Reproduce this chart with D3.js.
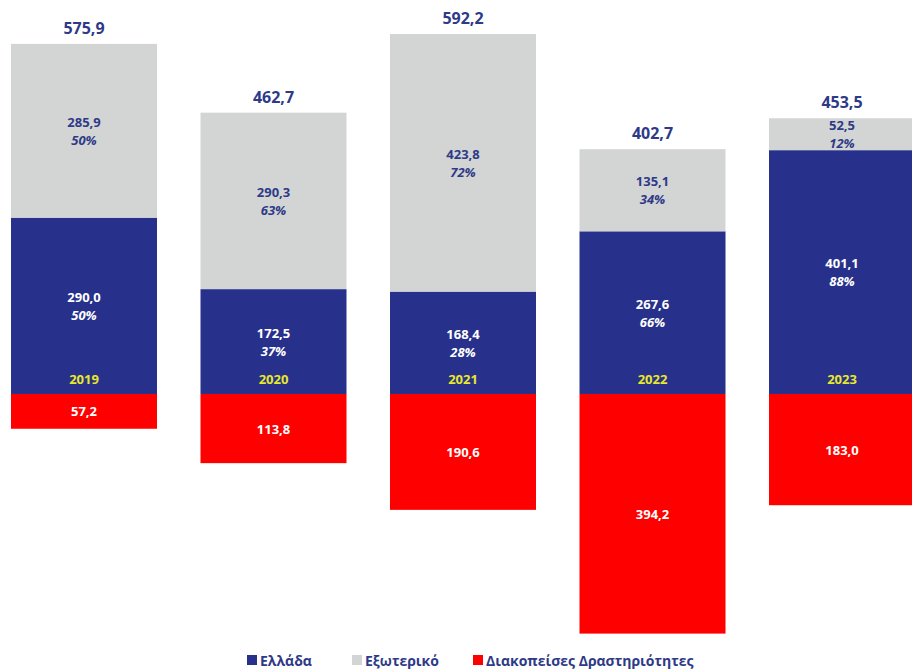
<!DOCTYPE html>
<html>
<head>
<meta charset="utf-8">
<script src="https://cdn.jsdelivr.net/npm/d3@7"></script>
<style>
  body { margin: 0; background: #fff; }
  svg { display: block; font-family: "Open Sans", "DejaVu Sans", sans-serif; }
</style>
</head>
<body>
<svg id="chart" width="912" height="670"></svg>
<script>
// data
var years = ["2019", "2020", "2021", "2022", "2023"];
var greece = [290.0, 172.5, 168.4, 267.6, 401.1];
var abroad = [285.9, 290.3, 423.8, 135.1, 52.5];
var discontinued = [57.2, 113.8, 190.6, 394.2, 183.0];
var greecePct = ["50%", "37%", "28%", "66%", "88%"];
var abroadPct = ["50%", "63%", "72%", "34%", "12%"];
var totals = [575.9, 462.7, 592.2, 402.7, 453.5];
var legendLabels = ["Ελλάδα", "Εξωτερικό", "Διακοπείσες Δραστηριότητες"];

var navy = "#27318b", grey = "#d3d5d4", red = "#ff0000", yellow = "#e8e82a";
var fmt = function(v) { return v.toFixed(1).replace(".", ","); };

var svg = d3.select("#chart");

var x = d3.scaleBand()
  .domain(years)
  .range([11, 915])
  .paddingInner(0.2296)
  .paddingOuter(0)
  .align(0);

var y = d3.scaleLinear()
  .domain([-394.2, 592.2])
  .range([633.6, 34]);

var bw = x.bandwidth();

years.forEach(function(yr, i) {
  var x0 = x(yr);
  var cx = x0 + bw / 2;
  var g0 = y(0), g1 = y(greece[i]), a1 = y(greece[i] + abroad[i]), r1 = y(-discontinued[i]);

  // bars
  svg.append("rect").attr("x", x0).attr("y", g1).attr("width", bw).attr("height", g0 - g1).attr("fill", navy);
  svg.append("rect").attr("x", x0).attr("y", a1).attr("width", bw).attr("height", g1 - a1).attr("fill", grey);
  svg.append("rect").attr("x", x0).attr("y", g0).attr("width", bw).attr("height", r1 - g0).attr("fill", red);

  // total on top
  svg.append("text").attr("x", cx).attr("y", a1 - 10)
    .attr("text-anchor", "middle").attr("font-size", 16).attr("font-weight", "bold")
    .attr("fill", "#2e3a87").text(fmt(totals[i]));

  // abroad label
  var am = (a1 + g1) / 2;
  svg.append("text").attr("x", cx).attr("y", am - 4)
    .attr("text-anchor", "middle").attr("font-size", 13).attr("font-weight", "bold")
    .attr("fill", "#2e3a87").text(fmt(abroad[i]));
  svg.append("text").attr("x", cx).attr("y", am + 14)
    .attr("text-anchor", "middle").attr("font-size", 13).attr("font-weight", "bold")
    .attr("font-style", "italic").attr("fill", "#2e3a87").text(abroadPct[i]);

  // greece label
  var gm = (g1 + g0) / 2;
  svg.append("text").attr("x", cx).attr("y", gm - 4)
    .attr("text-anchor", "middle").attr("font-size", 13).attr("font-weight", "bold")
    .attr("fill", "#fff").text(fmt(greece[i]));
  svg.append("text").attr("x", cx).attr("y", gm + 14)
    .attr("text-anchor", "middle").attr("font-size", 13).attr("font-weight", "bold")
    .attr("font-style", "italic").attr("fill", "#fff").text(greecePct[i]);

  // year
  svg.append("text").attr("x", cx).attr("y", g0 - 10)
    .attr("text-anchor", "middle").attr("font-size", 13).attr("font-weight", "bold")
    .attr("fill", yellow).text(yr);

  // discontinued label
  svg.append("text").attr("x", cx).attr("y", (g0 + r1) / 2 + 5)
    .attr("text-anchor", "middle").attr("font-size", 13).attr("font-weight", "bold")
    .attr("fill", "#fff").text(fmt(discontinued[i]));
});

// legend
var legendColors = [navy, grey, red];
var legendX = [247, 352, 473];
legendLabels.forEach(function(l, i) {
  svg.append("rect").attr("x", legendX[i]).attr("y", 655).attr("width", 10).attr("height", 10).attr("fill", legendColors[i]);
  svg.append("text").attr("x", legendX[i] + 13).attr("y", 666)
    .attr("font-size", 14).attr("font-weight", "bold").attr("fill", "#2e3a87").text(l);
});
</script>
</body>
</html>
